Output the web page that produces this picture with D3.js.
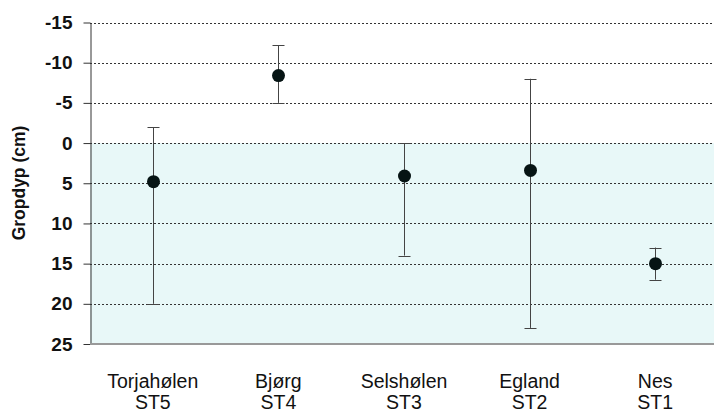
<!DOCTYPE html>
<html lang="no">
<head>
<meta charset="UTF-8">
<title>Gropdyp</title>
<style>
  body { margin: 0; background: #fff; }
  svg { display: block; font-family: "Liberation Sans", Arial, sans-serif; }
  .grid line { stroke: #333; stroke-dasharray: 2,2; stroke-width: 1; }
</style>
</head>
<body>
<svg width="714" height="412"></svg>
<script src="https://d3js.org/d3.v7.min.js"></script>
<script>
const steder = ["Torjahølen", "Bjørg", "Selshølen", "Egland", "Nes"];
const stasjoner = ["ST5", "ST4", "ST3", "ST2", "ST1"];
const snitt = [4.8, -8.4, 4.1, 3.4, 15];
const minste = [-2, -12.2, 0, -8, 13];
const storste = [20, -5, 14, 23, 17];
const yTicks = [-15, -10, -5, 0, 5, 10, 15, 20, 25];

const data = steder.map((s, i) => ({
  sted: s, st: stasjoner[i], v: snitt[i], lo: minste[i], hi: storste[i]
}));

const svg = d3.select("svg");
const mLeft = 90, mRight = 718, mTop = 22.5, mBottom = 344;

const x = d3.scaleBand().domain(steder).range([mLeft, mRight]);
const y = d3.scaleLinear().domain([-15, 25]).range([mTop, mBottom]);

// skyggelagt område under 0
svg.append("rect")
  .attr("x", mLeft)
  .attr("y", y(0))
  .attr("width", 714 - mLeft)
  .attr("height", y(25) - y(0))
  .attr("fill", "#e8f8f8");

// rutenett
svg.append("g")
  .attr("class", "grid")
  .selectAll("line")
  .data(yTicks.filter(t => t < 25))
  .join("line")
  .attr("x1", mLeft)
  .attr("x2", 714)
  .attr("y1", d => Math.round(y(d)) + 0.5)
  .attr("y2", d => Math.round(y(d)) + 0.5);

// y-akse
const yAxis = svg.append("g")
  .attr("transform", `translate(${mLeft + 0.5},0)`)
  .call(d3.axisLeft(y).tickValues(yTicks).tickFormat(d => String(d))
    .tickSize(7).tickSizeOuter(0).tickPadding(11));
yAxis.select(".domain").attr("stroke", "#333");
yAxis.selectAll(".tick line").attr("stroke", "#333");
yAxis.selectAll("text")
  .attr("font-size", 19)
  .attr("font-weight", "bold")
  .attr("fill", "#111");

// x-akse linje
svg.append("line")
  .attr("x1", mLeft)
  .attr("x2", 714)
  .attr("y1", mBottom)
  .attr("y2", mBottom)
  .attr("stroke", "#999")
  .attr("stroke-width", 2);

// kategoritekster
const lab = svg.append("g").selectAll("text")
  .data(data)
  .join("text")
  .attr("text-anchor", "middle")
  .attr("font-size", 19.5)
  .attr("fill", "#111");
lab.append("tspan").attr("x", d => x(d.sted) + x.bandwidth() / 2).attr("y", 388).text(d => d.sted);
lab.append("tspan").attr("x", d => x(d.sted) + x.bandwidth() / 2).attr("y", 409).text(d => d.st);

// y-tittel
svg.append("text")
  .attr("transform", `translate(25,183) rotate(-90)`)
  .attr("text-anchor", "middle")
  .attr("font-size", 17.5)
  .attr("font-weight", "bold")
  .attr("fill", "#111")
  .text("Gropdyp (cm)");

// feilstolper
const cx = d => Math.round(x(d.sted) + x.bandwidth() / 2) + 0.5;
const eb = svg.append("g").attr("stroke", "#444").attr("stroke-width", 1);
eb.selectAll(".stem").data(data).join("line")
  .attr("x1", cx).attr("x2", cx)
  .attr("y1", d => y(d.lo)).attr("y2", d => y(d.hi));
eb.selectAll(".capLo").data(data).join("line")
  .attr("x1", d => cx(d) - 6).attr("x2", d => cx(d) + 6)
  .attr("y1", d => Math.round(y(d.lo)) + 0.5).attr("y2", d => Math.round(y(d.lo)) + 0.5);
eb.selectAll(".capHi").data(data).join("line")
  .attr("x1", d => cx(d) - 6).attr("x2", d => cx(d) + 6)
  .attr("y1", d => Math.round(y(d.hi)) + 0.5).attr("y2", d => Math.round(y(d.hi)) + 0.5);

// punkter
svg.append("g").selectAll("circle")
  .data(data)
  .join("circle")
  .attr("cx", cx)
  .attr("cy", d => y(d.v))
  .attr("r", 6.5)
  .attr("fill", "#061414");
</script>
</body>
</html>
